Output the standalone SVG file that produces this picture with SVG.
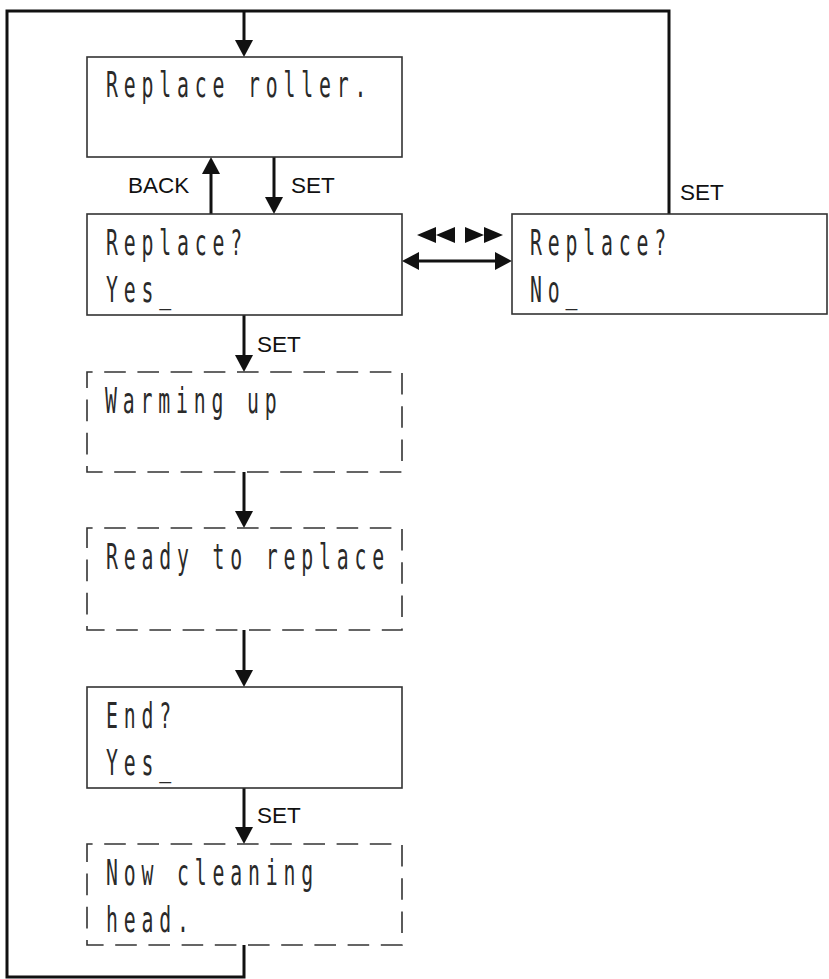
<svg xmlns="http://www.w3.org/2000/svg" width="829" height="979" viewBox="0 0 829 979">
<defs>
<marker id="ah" markerUnits="userSpaceOnUse" markerWidth="17" markerHeight="18" refX="1" refY="9" orient="auto-start-reverse" viewBox="0 0 17 18">
<path d="M0,0 L17,9 L0,18 Z" fill="#111"/>
</marker>
<style>
.box{fill:#fff;stroke:#333;stroke-width:1.6}
.dash{stroke-dasharray:21.6 11.6;stroke-dashoffset:16}
.lcd{font-family:"DejaVu Sans Mono","Liberation Mono",monospace;font-size:36px;letter-spacing:10.6px;fill:#2a2a2a}
.lbl{font-family:"Liberation Sans",Arial,sans-serif;font-size:22.5px;fill:#111}
.con{fill:none;stroke:#111;stroke-width:3}
.arr{marker-end:url(#ah)}
</style>
</defs>
<rect width="829" height="979" fill="#fff"/>
<g id="connectors">
<path class="con" d="M244,945 V977 H7 V11 H669 V214"/>
<path class="con arr" d="M244,11 V41"/>
<path class="con arr" d="M211,214 V173"/>
<path class="con arr" d="M274,157 V198"/>
<path class="con" d="M418,261 H496" marker-start="url(#ah)" marker-end="url(#ah)"/>
<path class="con arr" d="M244,315 V356"/>
<path class="con arr" d="M244,472 V512"/>
<path class="con arr" d="M244,630 V671"/>
<path class="con arr" d="M244,788 V828"/>
<g fill="#111">
<polygon points="417,235 436,227 436,243"/>
<polygon points="436,235 455,227 455,243"/>
<polygon points="465,227 484,235 465,243"/>
<polygon points="484,227 503,235 484,243"/>
</g>
<text class="lbl" x="128" y="193">BACK</text>
<text class="lbl" x="291" y="193">SET</text>
<text class="lbl" x="680" y="200">SET</text>
<text class="lbl" x="257" y="352">SET</text>
<text class="lbl" x="257" y="823">SET</text>
</g>
<g id="node-replace-roller">
<rect class="box" x="87" y="57" width="315" height="100"/>
<text class="lcd" transform="translate(106,97) scale(0.55,1)">Replace roller.</text>
</g>
<g id="node-replace-yes">
<rect class="box" x="87" y="214" width="315" height="101"/>
<text class="lcd" transform="translate(106,255) scale(0.55,1)">Replace?</text>
<text class="lcd" transform="translate(106,302) scale(0.55,1)">Yes_</text>
</g>
<g id="node-replace-no">
<rect class="box" x="512" y="214" width="315" height="100"/>
<text class="lcd" transform="translate(530,255) scale(0.55,1)">Replace?</text>
<text class="lcd" transform="translate(530,302) scale(0.55,1)">No_</text>
</g>
<g id="node-warming">
<rect class="box dash" x="87" y="372" width="315" height="100"/>
<text class="lcd" transform="translate(105,413) scale(0.55,1)">Warming up</text>
</g>
<g id="node-ready">
<rect class="box dash" x="87" y="528" width="315" height="102"/>
<text class="lcd" transform="translate(106,569) scale(0.55,1)">Ready to replace</text>
</g>
<g id="node-end">
<rect class="box" x="87" y="687" width="315" height="101"/>
<text class="lcd" transform="translate(106,728) scale(0.55,1)">End?</text>
<text class="lcd" transform="translate(106,775) scale(0.55,1)">Yes_</text>
</g>
<g id="node-cleaning">
<rect class="box dash" x="87" y="844" width="315" height="101"/>
<text class="lcd" transform="translate(106,885) scale(0.55,1)">Now cleaning</text>
<text class="lcd" transform="translate(106,932) scale(0.55,1)">head.</text>
</g>
</svg>
